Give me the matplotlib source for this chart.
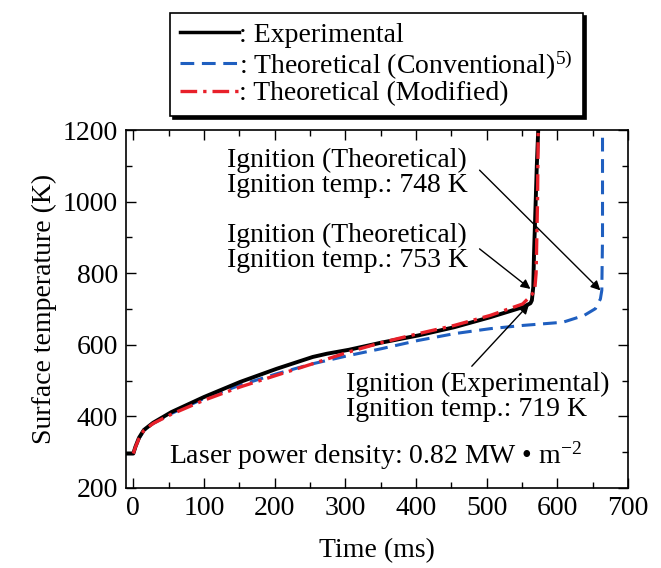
import matplotlib
matplotlib.use("Agg")
import matplotlib.pyplot as plt
from matplotlib.lines import Line2D
from matplotlib.ticker import MultipleLocator

plt.rcParams['font.family'] = ['Liberation Serif', 'DejaVu Serif']
plt.rcParams['mathtext.fontset'] = 'custom'
plt.rcParams['mathtext.rm'] = 'Liberation Serif'
plt.rcParams['mathtext.it'] = 'Liberation Serif:italic'

# experimental curve (ms, K)
exp_t = [-10, 0, 3, 8, 15, 28, 54, 100, 151, 203, 254, 274, 305, 351, 403, 454, 505, 551, 562, 564, 566, 567, 569, 571, 573]
exp_T = [296, 296, 315, 340, 362, 382, 412, 454, 496, 533, 566, 575, 586, 606, 626, 649, 677, 705, 716, 724, 761, 850, 975, 1100, 1200]

# conventional theory
conv_t = [-10, 0, 3, 8, 15, 28, 54, 100, 151, 203, 254, 305, 351, 403, 454, 505, 551, 608, 638, 654, 661, 663, 664, 664]
conv_T = [296, 296, 314, 338, 361, 380, 408, 450, 487, 519, 547, 570, 589, 612, 631, 645, 654, 663, 682, 701, 728, 752, 900, 1200]

# modified theory
mod_t = [0, 3, 8, 15, 28, 54, 100, 151, 203, 254, 305, 351, 403, 454, 505, 551, 564, 568, 570, 572, 573]
mod_T = [296, 314, 338, 361, 380, 406, 445, 482, 515, 547, 580, 606, 631, 654, 682, 714, 740, 752, 800, 1000, 1200]

fig = plt.figure(figsize=(6.61, 5.68), dpi=100)
ax = fig.add_axes([0.191, 0.141, 0.759, 0.630])

ax.plot(conv_t, conv_T, color='#1f5fc0', lw=2.2, ls=(0, (4.5, 2.5)))
ax.plot(exp_t, exp_T, color='black', lw=2.8)
ax.plot(mod_t, mod_T, color='#e8202a', lw=2.4, ls=(0, (5, 1.8, 1, 1.8)))

ax.set_xlim(-10, 700)
ax.set_ylim(200, 1200)
ax.xaxis.set_major_locator(MultipleLocator(100))
ax.xaxis.set_minor_locator(MultipleLocator(50))
ax.yaxis.set_major_locator(MultipleLocator(200))
ax.yaxis.set_minor_locator(MultipleLocator(100))
ax.tick_params(which='both', direction='in', top=True, right=True, labelsize=20, width=1)
ax.tick_params(which='major', length=7, pad=6)
ax.tick_params(which='minor', length=4)
for s in ax.spines.values():
    s.set_linewidth(1.2)

ax.set_xlabel('Time (ms)', fontsize=20, labelpad=12)
ax.set_ylabel('Surface temperature (K)', fontsize=20, labelpad=4)

fs = 20
ax.text(133, 1080, 'Ignition (Theoretical)\nIgnition temp.: 748 K', fontsize=fs,
        va='center', ha='left', linespacing=1.0)
ax.text(133, 872, 'Ignition (Theoretical)\nIgnition temp.: 753 K', fontsize=fs,
        va='center', ha='left', linespacing=1.0)
ax.text(301, 454, 'Ignition (Experimental)\nIgnition temp.: 719 K', fontsize=fs,
        va='center', ha='left', linespacing=1.0)
ax.text(51, 291, 'Laser power density: 0.82 MW \u2022 m$^{-2}$', fontsize=fs,
        va='center', ha='left')

aprops = dict(arrowstyle='-|>', color='black', lw=1.0, mutation_scale=14, shrinkA=0, shrinkB=0)
ax.annotate('', xy=(661, 752), xytext=(490, 1088), arrowprops=aprops)
ax.annotate('', xy=(562, 756), xytext=(490, 868), arrowprops=aprops)
ax.annotate('', xy=(560, 713), xytext=(479, 540), arrowprops=aprops)

handles = [
    Line2D([], [], color='black', lw=2.5),
    Line2D([], [], color='#1f5fc0', lw=2.2, ls=(0, (4.5, 2.5))),
    Line2D([], [], color='#e8202a', lw=2.4, ls=(0, (5, 1.8, 1, 1.8))),
]
labels = [': Experimental', ': Theoretical (Conventional)$^{5)}$', ': Theoretical (Modified)']
leg = fig.legend(handles, labels, loc='upper left', bbox_to_anchor=(170 / 661, 1 - 13 / 568),
                 fontsize=20, handlelength=2.15, handletextpad=0.0, labelspacing=0.0,
                 borderpad=0.35, borderaxespad=0, frameon=True, fancybox=False, framealpha=1,
                 edgecolor='black', shadow={'color': 'black', 'alpha': 1})
leg.get_frame().set_linewidth(1.2)

fig.savefig('out.png', dpi=100)
